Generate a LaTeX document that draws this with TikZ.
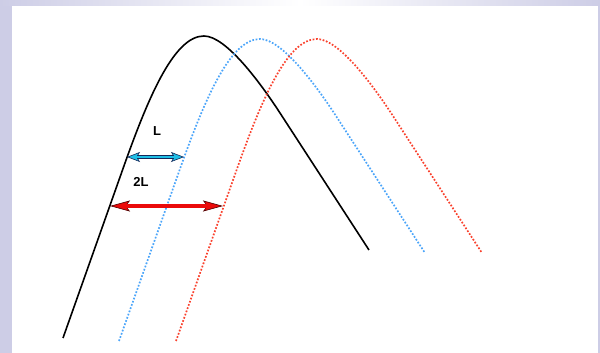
\documentclass[tikz,border=0pt]{standalone}
\usepackage{fontspec}
\setmainfont{Liberation Sans}
\usetikzlibrary{arrows.meta}

\definecolor{lavender}{RGB}{205,205,230}
\definecolor{skydot}{RGB}{75,165,250}
\definecolor{reddot}{RGB}{250,65,45}
\definecolor{spancyan}{RGB}{30,190,230}
\definecolor{spanblue}{RGB}{20,40,90}
\definecolor{spanred}{RGB}{235,10,10}
\definecolor{spandark}{RGB}{80,0,0}

\tikzset{
  solidhump/.style={line width=1.6pt, black},
  bluehump/.style={line width=1.7pt, skydot, dash pattern=on 1.7pt off 1.7pt},
  redhump/.style={line width=1.7pt, reddot, dash pattern=on 1.7pt off 1.7pt},
  cyanspan/.style={line width=4pt, spanblue,
    >={Stealth[length=13pt,width=10pt,inset=3pt,fill=spancyan,line width=0.6pt]}, <->},
  cyancore/.style={line width=2.6pt, spancyan, shorten <=9pt, shorten >=9pt},
  redspan/.style={line width=4.6pt, spandark,
    >={Stealth[length=20pt,width=11pt,inset=4pt,fill=spanred,line width=0.6pt]}, <->},
  redcore/.style={line width=3.2pt, spanred, shorten <=14pt, shorten >=14pt},
  spanlabel/.style={font=\fontsize{13}{15}\selectfont\bfseries, inner sep=0pt}
}

\begin{document}
\begin{tikzpicture}[x=1pt,y=1pt]
% frame
\fill[lavender] (0,0) rectangle (600,353);
\shade[left color=lavender, right color=lavender, middle color=white] (0,347) rectangle (600,353);
\fill[white] (12,0) rectangle (598,347);

% the three humps
\foreach \dx/\dy/\hump in {0/0/solidhump, 56/-3/bluehump, 113/-3/redhump}
  \draw[\hump, shift={(\dx,\dy)}] (63,15) -- (125,190)
    .. controls (150,260) and (175,317) .. (204,317)
    .. controls (226,317) and (260.5,270) .. (280,240) -- (369,103);

% spans
\coordinate (Lleft) at (127,196);
\coordinate (Lright) at (184,196);
\coordinate (Tleft) at (110,147);
\coordinate (Tright) at (223,147);

\draw[cyanspan] (Lleft) -- (Lright);
\draw[cyancore] (Lleft) -- (Lright);
\draw[redspan] (Tleft) -- (Tright);
\draw[redcore] (Tleft) -- (Tright);

\node[spanlabel] (Llabel) at (157,222) {L};
\node[spanlabel] (Tlabel) at (141,171) {2L};
\end{tikzpicture}
\end{document}
